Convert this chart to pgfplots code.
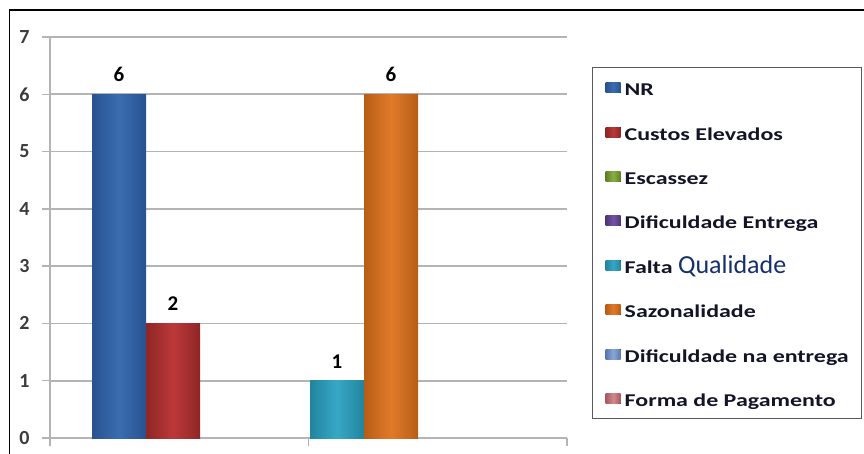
\documentclass[border=0pt]{standalone}
\usepackage{fontspec}
\setmainfont{Carlito}
\newfontfamily\legfont[FakeStretch=1.33]{Carlito}
\newfontfamily\plainfont{Carlito}
\usepackage{pgfplots}
\pgfplotsset{compat=1.18}

\definecolor{blueM}{HTML}{3A6DB0}\definecolor{blueD}{HTML}{285290}
\definecolor{redM}{HTML}{BC3838}\definecolor{redD}{HTML}{8E2626}
\definecolor{greenM}{HTML}{8AB043}\definecolor{greenD}{HTML}{5E7F28}
\definecolor{purpM}{HTML}{7555A3}\definecolor{purpD}{HTML}{4F3576}
\definecolor{tealM}{HTML}{36A8C6}\definecolor{tealD}{HTML}{23849E}
\definecolor{orgM}{HTML}{E07A2A}\definecolor{orgD}{HTML}{B85D16}
\definecolor{lbM}{HTML}{8AA6D6}\definecolor{lbD}{HTML}{5B78AE}
\definecolor{pinkM}{HTML}{D08A8E}\definecolor{pinkD}{HTML}{A8585E}
\definecolor{gridgray}{HTML}{B4B4B4}
\definecolor{ticktext}{HTML}{3C3C3C}
\definecolor{legtext}{HTML}{141428}
\definecolor{navy}{HTML}{16306E}

\pgfplotsset{
  barstyle/.style n args={2}{ybar, bar width=54, bar shift=0pt, draw=none,
    left color=#2, right color=#2, middle color=#1},
  legsq/.style n args={2}{legend image code/.code={
      \path[draw=none, fill=none] (0pt,-5pt) rectangle (19pt,5pt);
      \fill[draw=none, left color=#2, right color=#2, middle color=#1] (0pt,-5pt) rectangle (15pt,5pt);}},
}

\begin{document}
\begin{tikzpicture}[x=1pt,y=1pt]
\useasboundingbox (0,0) rectangle (864,453);
\clip (0,0) rectangle (864,453);
% outer frame of the chart area
\draw[black, line width=1.6pt] (9.5,-10) -- (9.5,443) -- (880,443);
\begin{axis}[
  at={(50pt,15pt)}, anchor=south west,
  scale only axis, width=517pt, height=401pt,
  xmin=50, xmax=567, ymin=0, ymax=7,
  axis lines*=left,
  axis line style={draw=gridgray, line width=1.3pt},
  ytick={0,1,...,7},
  xtick={50,308.5,567}, xticklabels={},
  ymajorgrids, grid style={draw=gridgray, line width=1.6pt},
  tick align=outside, major tick length=8pt,
  tick style={draw=gridgray, line width=1.3pt},
  /pgf/number format/assume math mode=true,
  yticklabel style={font=\bfseries\fontsize{20}{20}\selectfont, text=ticktext, xshift=-9pt},
  nodes near coords style={font=\bfseries\fontsize{21}{21}\selectfont, text=black, anchor=south, yshift=9pt},
  clip=false,
  legend cell align=left,
  legend style={at={(rel axis cs:1.0484,0.925)}, anchor=north west,
    draw=black!65, line width=1.3pt, fill=white,
    font=\legfont\bfseries\fontsize{18}{20}\selectfont, text=legtext,
    inner xsep=13pt, inner ysep=9pt, row sep=22.4pt,
    nodes={inner sep=0pt, text height=19pt, text depth=3pt}},
]
\addplot[barstyle={blueM}{blueD}, forget plot, nodes near coords] coordinates {(119,6)};
\addplot[barstyle={redM}{redD}, forget plot, nodes near coords] coordinates {(173,2)};
\addplot[barstyle={tealM}{tealD}, forget plot, nodes near coords] coordinates {(337,1)};
\addplot[barstyle={orgM}{orgD}, forget plot, nodes near coords] coordinates {(391,6)};

\addlegendimage{legsq={blueM}{blueD}}\addlegendentry{NR}
\addlegendimage{legsq={redM}{redD}}\addlegendentry{Custos Elevados}
\addlegendimage{legsq={greenM}{greenD}}\addlegendentry{Escassez}
\addlegendimage{legsq={purpM}{purpD}}\addlegendentry{Dificuldade Entrega}
\addlegendimage{legsq={tealM}{tealD}}\addlegendentry{Falta {\plainfont\mdseries\fontsize{26}{26}\selectfont\color{navy}Qualidade}}
\addlegendimage{legsq={orgM}{orgD}}\addlegendentry{Sazonalidade}
\addlegendimage{legsq={lbM}{lbD}}\addlegendentry{Dificuldade na entrega}
\addlegendimage{legsq={pinkM}{pinkD}}\addlegendentry{Forma de Pagamento}
\end{axis}
\end{tikzpicture}
\end{document}
